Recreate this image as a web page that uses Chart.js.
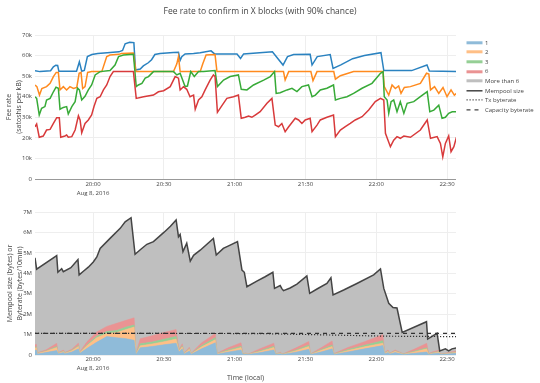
<!DOCTYPE html>
<html><head><meta charset="utf-8">
<script src="https://cdn.jsdelivr.net/npm/chart.js@4.4.1/dist/chart.umd.min.js"></script>
<style>
html,body{margin:0;padding:0;background:#fff;}
body{width:540px;height:383px;position:relative;overflow:hidden;font-family:"Open Sans",sans-serif;}
#c1{position:absolute;left:0;top:0;}
#c2{position:absolute;left:0;top:200px;}
#legend{position:absolute;left:466px;top:37.9px;font-size:6px;color:#444;font-family:"Open Sans",sans-serif;}
.row{height:9.6px;display:flex;align-items:center;white-space:nowrap;}
.row svg{width:17px;height:9.6px;margin-right:2px;flex:none;}
</style></head><body>
<canvas id="c1" width="540" height="200"></canvas>
<canvas id="c2" width="540" height="183"></canvas>
<div id="legend"></div>
<script>
// ---- time axis (minutes after 19:00) ----
const tickMinutes = [60, 90, 120, 150, 180, 210];
const tickLabels = ['20:00', '20:30', '21:00', '21:30', '22:00', '22:30'];
const dateLabel = 'Aug 8, 2016';
const legendNames = ['1', '2', '3', '6', 'More than 6', 'Mempool size', 'Tx byterate', 'Capacity byterate'];

// ---- top chart: fee rate (thousand satoshis per kB), [minute, value] ----
const fee1 = [[35.4,52.6],[37.5,52.2],[42,52.6],[43.2,54.5],[44.2,55.3],[45,55.2],[45.5,52.4],[53,52.4],[54.2,57],[55.2,52.4],[56.3,52.8],[57.6,59.5],[59.5,60.5],[62,61],[66,61.4],[71,61.8],[72.5,62.5],[73.6,65.7],[75.5,66.5],[77.3,66.3],[78,53],[80,53.5],[81.3,55],[83.4,56.5],[84.8,58],[86.2,60.5],[88.4,61],[94,61.5],[96.2,61.6],[96.9,57.7],[97.6,59.5],[99,60.8],[102.6,61],[105.4,61.4],[110,62.3],[111.5,60.8],[121,60.8],[122.5,58.6],[123.8,60.8],[136,61.8],[140.5,55.4],[142.4,59.5],[145,60.5],[152,60.6],[152.8,55.4],[155,59.5],[160.5,60.5],[161.7,53.8],[165,55.5],[170,58.5],[175,60],[182,61.4],[183.2,52.7],[195,52.7],[201.5,55.4],[202.5,52.5],[214,52.2]];
const fee2 = [[35.4,45.7],[36.2,44.9],[37.3,40.8],[38.3,44],[40.3,44.9],[41.8,46.5],[43.2,49.8],[44.4,51.8],[45.3,51.8],[46,43.3],[47.4,44.9],[48.8,43.3],[50.2,44.9],[51.7,44],[53.1,44.5],[54.1,51.4],[54.9,51.8],[55.6,44],[56.6,44.9],[57.7,51.8],[59.4,52.2],[63.7,52.2],[65.8,59.5],[67.2,60.3],[71,60.6],[72,61],[77.1,61.2],[78.2,52.2],[94.1,52.2],[95.5,56],[96.2,59.5],[96.9,52.2],[105.4,52.2],[106.5,56],[107.9,60.3],[111.7,60.5],[112.5,52.2],[140.7,52.2],[141.4,48.1],[142.9,52.2],[152.3,52.2],[153.2,47.8],[154.9,52.2],[162,52.2],[162.7,48.5],[164.8,50.2],[170.4,52.2],[182.9,52.2],[183.4,44.9],[185.3,40.8],[186.7,45.7],[188.1,44],[189.5,45.2],[190.5,41.6],[191.9,44.5],[194.5,44.9],[198.7,46.5],[201.3,51.4],[202.3,51],[203,43.3],[204.7,44.9],[206.5,41.6],[208.3,44.5],[210,40],[211.7,43.3],[213.1,40.8],[214,41.6]];
const fee3 = [[35.4,40],[36.1,39.2],[37.2,31.1],[38.2,34.4],[39.6,35.2],[40.3,38.4],[41.8,39.2],[43.2,42.4],[44.3,44.6],[45.3,44.1],[46,33.9],[47.4,34.8],[48.8,35.2],[49.5,31.6],[51,35.2],[52.4,37.6],[53.4,44.2],[54.2,43.3],[55.2,38.4],[56.6,40.2],[58,43.3],[59.4,45.7],[60.9,50.6],[63,52.2],[67.2,52.7],[69.3,55.4],[70.8,59.5],[72.9,60.3],[77.1,60.6],[78.3,44.9],[79.2,45.7],[80.7,46.5],[82.1,49],[83.5,49.8],[85.6,52.2],[94.1,52.2],[95.5,50.6],[96.9,51.4],[99,44.9],[100,45.2],[101.4,52.2],[102.9,49.8],[104.7,52.2],[106.8,52.2],[111.7,52.7],[112.7,44.9],[115.3,48.1],[118.1,49.8],[121.6,50.6],[122.8,43.6],[125.2,43.3],[128,45.7],[132.3,48.1],[135.1,49.8],[136.9,52.2],[137.6,41.6],[139.3,41.9],[142.2,43.3],[144.3,44.1],[146.4,42.5],[148.5,44.9],[151.3,45.7],[152.8,40],[154.2,40.8],[156.3,43.3],[159.1,44.1],[161.9,45.7],[162.7,38.4],[164.8,39.2],[167.6,40],[170.4,41.6],[174,44.1],[178.2,46.5],[181.8,51.4],[182.9,52.2],[183.4,40],[184.6,38.4],[185.3,31.9],[186.3,37.6],[187.4,38.4],[188.8,32.7],[190.2,37.6],[191.7,31.9],[193.1,36.8],[195.9,37.6],[198.7,40],[201.6,42.5],[202.7,32.7],[204.4,33.5],[206.5,35.9],[207.9,29.5],[209.3,30],[210.7,31.9],[212.2,32.7],[214,32.7]];
const fee6 = [[35.4,25.4],[36.1,26.7],[37.2,20.3],[38.9,20.9],[40.3,23.8],[41.8,24.1],[43.2,27],[44.6,29.8],[45.7,29.8],[46.3,20.3],[48.1,20.9],[48.8,21.4],[49.5,20.3],[51,20.6],[52.4,23.8],[53.8,30.7],[54.5,28.7],[55.2,22.5],[56.6,27],[58,28.7],[59.4,31.1],[60.4,35.2],[61.6,39.2],[63,40],[64.4,43.3],[65.8,45.7],[67.2,49.8],[68.6,52.2],[77.1,52.2],[78.3,39.2],[81.4,40],[85.6,40.8],[87.7,42.4],[89.9,42.9],[92.7,44.9],[94.8,49.8],[96.2,49],[96.9,43.3],[98.3,44.9],[99.7,43.6],[101.1,40],[102.6,40.8],[103.3,33.9],[104.7,38.4],[106.1,40],[107.5,43.3],[109.6,48.1],[111,50.6],[111.7,49.8],[112.7,32.4],[114.6,35.7],[116.7,39.2],[119.5,40],[121.6,40.8],[122.8,29.5],[124.5,30],[125.9,30.6],[127.3,30],[128.7,31.1],[130.8,32.7],[133.7,36.8],[135.8,39.2],[137.2,26.2],[138.6,25.4],[140,27],[141.4,23],[142.9,25.4],[145.7,29.5],[147.1,28.7],[148.5,27],[149.9,28.7],[152,29.5],[152.8,23],[154.9,26.2],[156.3,28.7],[159.1,30],[161.9,31.1],[162.7,20.6],[164.8,23.8],[166.9,25.4],[169,27],[171.1,28.7],[174,30.3],[176.8,33.5],[179.6,37.6],[181.8,39.2],[183.2,38.4],[183.9,22.2],[186,15.7],[187.4,18.9],[188.8,20.6],[190.2,19.8],[191.7,20.9],[194.5,20.3],[198.7,23.8],[201.6,28.7],[203,19.8],[205.8,20.6],[207.2,17.3],[208.2,10.8],[209.3,17.3],[210.7,20.9],[211.7,13.3],[212.9,15.7],[214,20.3]];

// ---- bottom chart: mempool (million bytes), [minute, value] ----
const mempoolSize = [[35.4,4.76],[36.1,4.2],[44.6,4.86],[45.1,4.05],[46.7,4.22],[47.4,4.08],[50.6,4.27],[53.6,4.67],[54.1,3.92],[55.9,4.1],[58,4.3],[60.1,4.55],[61.6,4.8],[63,5.22],[67.2,5.71],[71.5,6.2],[73.6,6.52],[76.1,6.72],[77.8,4.93],[80,5.15],[82.8,5.42],[85.6,5.55],[90,6.0],[92.8,6.3],[95.2,6.61],[96.2,5.79],[96.9,5.9],[98.1,5.06],[99.7,5.47],[101.2,4.6],[102.6,4.88],[105.4,5.13],[111,5.71],[112.2,4.89],[115.2,5.22],[118.1,5.38],[121.2,5.55],[123.1,4.16],[124.1,4.05],[125.2,3.34],[129.4,3.62],[132.9,3.83],[136.2,4.05],[136.9,3.26],[139.3,3.4],[140,3.25],[140.7,3.15],[143.5,3.28],[146.4,3.47],[150.6,3.87],[151.8,3.02],[154.9,3.23],[159.1,3.5],[160.8,3.78],[161.7,2.94],[166.2,3.18],[171.8,3.5],[178.9,3.92],[181.8,4.21],[183.2,3.26],[185.3,2.53],[187.1,2.32],[188.8,2.3],[191,1.11],[201.3,1.63],[201.8,0.78],[205.8,1.06],[206.9,0.2],[209.3,0.3],[210.7,0.2],[212.1,0.3],[214,0.35]];
// stacked fee buckets (million bytes) on a shared time grid
const stackTimes = [35.4,36.0,36.4,40,44.6,45.2,47.5,48,51,53.8,54.4,57.5,61.5,65.8,70,74,77.4,78.2,80,85,90,95.2,96.4,97.8,98.6,100.8,101.6,106,111.8,112.6,117,122.7,123.5,124.8,125.6,131,136.6,137.4,139.5,140.2,146,151.4,152.2,157,161.3,162.1,168,175,182.8,183.6,185,185.8,188,190.8,191.6,196,201.4,202.2,204,206.5,207.3,210,213.8];
const bucket1 = [.22,.24,.05,.12,.22,.06,.12,.06,.15,.3,.08,.33,.62,.9,.85,.8,.72,.03,.35,.42,.5,.58,.15,.3,.05,.2,.04,.3,.6,.04,.14,.25,.03,.05,.02,.12,.25,.03,.06,.02,.14,.28,.03,.16,.3,.03,.15,.3,.46,.06,.12,.05,.12,.05,.03,.08,.15,.03,.06,.1,.02,.05,.08];
const bucket2 = [.12,.12,.03,.06,.15,.03,.05,.03,.06,.12,.04,.14,.22,.15,.25,.45,.65,.02,.1,.12,.15,.2,.05,.1,.02,.08,.02,.1,.15,.02,.06,.12,.01,.02,.01,.06,.12,.01,.03,.01,.07,.14,.01,.08,.12,.01,.07,.1,.12,.03,.05,.02,.06,.02,.01,.07,.15,.01,.03,.05,.01,.02,.04];
const bucket3 = [.04,.04,.01,.02,.05,.01,.02,.01,.02,.04,.01,.04,.08,.1,.1,.12,.1,.01,.1,.1,.12,.13,.02,.05,.01,.03,.01,.06,.1,.01,.04,.06,.01,.01,0,.04,.06,.01,.01,.01,.04,.07,.01,.04,.07,.01,.05,.08,.12,.01,.02,.01,.02,.01,.01,.03,.05,.01,.02,.02,0,.01,.02];
const bucket6 = [.12,.12,.02,.05,.15,.02,.05,.02,.05,.12,.03,.15,.2,.25,.35,.33,.35,.02,.25,.3,.33,.34,.05,.1,.02,.07,.02,.14,.2,.02,.1,.17,.01,.02,.01,.1,.15,.01,.03,.01,.1,.17,.01,.1,.2,.02,.1,.17,.3,.03,.06,.02,.05,.02,.01,.1,.22,.02,.05,.06,.01,.03,.06];
const txTimes = [35.4, 130, 160, 185, 213.8];
const txByterate = [1.06, 1.05, 0.98, 0.92, 0.9];
const capTimes = [35.4, 213.8];
const capByterate = [1.06, 1.06];

// ---- styling ----
Chart.defaults.font.family = '"Open Sans", "DejaVu Sans", sans-serif';
Chart.defaults.color = '#444';
const lineColors = ['#2a82c0', '#ff8a1e', '#37aa37', '#d83a3b'];
const fillColors = ['#8fbbd9', '#ffbf86', '#95cf95', '#ea9393'];
const greyFill = '#bfbfbf';
const pts = arr => arr.map(([x, y]) => ({x, y}));
const zip = (xs, ys) => xs.map((x, i) => ({x, y: ys[i]}));

function xScale(withTitle) {
  return {
    type: 'linear', min: 35.4, max: 213.8,
    afterBuildTicks: s => { s.ticks = tickMinutes.map(v => ({value: v})); },
    afterFit: s => { s.height = withTitle ? 28 : 21; },
    ticks: {
      font: {size: 6, lineHeight: 1.5}, color: '#444', padding: withTitle ? 0 : 0.5, maxRotation: 0, autoSkip: false,
      callback: v => { const i = tickMinutes.indexOf(v); if (i < 0) return ''; return i === 0 ? [tickLabels[i], dateLabel] : tickLabels[i]; }
    },
    grid: {color: '#eee', drawTicks: false},
    border: {display: false},
    title: withTitle ? {display: true, text: 'Time (local)', font: {size: 7}, color: '#444', padding: {top: 0, bottom: 1}} : {display: false}
  };
}

new Chart(document.getElementById('c1'), {
  type: 'line',
  data: {
    datasets: [fee1, fee2, fee3, fee6].map((s, i) => ({
      label: legendNames[i], data: pts(s), borderColor: lineColors[i], borderWidth: 1.5,
      pointRadius: 0, fill: false, tension: 0, order: -i
    }))
  },
  options: {
    responsive: false, animation: false,
    layout: {padding: {left: 0, right: 20, top: 0, bottom: 0}},
    plugins: {
      legend: {display: false}, tooltip: {enabled: false},
      title: {display: true, text: 'Fee rate to confirm in X blocks (with 90% chance)', font: {size: 8.5, weight: 'normal'}, color: '#444', padding: {top: 6, bottom: 18.8}}
    },
    scales: {
      x: xScale(false),
      y: {
        min: 0, max: 70,
        afterFit: s => { s.width = 35; },
        ticks: {stepSize: 10, font: {size: 6}, color: '#444', padding: 3, callback: v => v === 0 ? '0' : v + 'k'},
        grid: {color: c => c.tick && c.tick.value === 0 ? '#999' : '#eee', drawTicks: false},
        border: {display: false},
        title: {display: true, text: ['Fee rate', '(satoshis per kB)'], font: {size: 7, lineHeight: 1.35}, color: '#444', padding: {top: 4.5}}
      },
      yPad: {
        position: 'right', display: true,
        afterFit: s => { s.width = 64; },
        ticks: {display: false}, grid: {display: false}, border: {display: false}
      }
    }
  }
});

new Chart(document.getElementById('c2'), {
  type: 'line',
  data: {
    datasets: [
      {label: legendNames[4], data: pts(mempoolSize), fill: 'origin', backgroundColor: greyFill, borderWidth: 0, pointRadius: 0, order: 3, stack: 'rest', tension: 0},
      ...[bucket1, bucket2, bucket3, bucket6].map((b, i) => ({
        label: legendNames[i], data: zip(stackTimes, b), fill: i === 0 ? 'origin' : '-1',
        backgroundColor: fillColors[i], borderColor: fillColors[i], borderWidth: 0.5, pointRadius: 0, order: 2, stack: 'fees', tension: 0
      })),
      {label: legendNames[5], data: pts(mempoolSize), fill: false, borderColor: '#444', borderWidth: 1.5, pointRadius: 0, order: 1, stack: 'mem', tension: 0},
      {label: legendNames[6], data: zip(txTimes, txByterate), fill: false, borderColor: '#333', borderWidth: 1.2, borderDash: [1.2, 1.8], pointRadius: 0, order: 0, stack: 'tx', tension: 0},
      {label: legendNames[7], data: zip(capTimes, capByterate), fill: false, borderColor: '#333', borderWidth: 1.2, borderDash: [4, 4], pointRadius: 0, order: 0, stack: 'cap', tension: 0}
    ]
  },
  options: {
    responsive: false, animation: false,
    layout: {padding: {left: 0, right: 84, top: 12, bottom: 0}},
    plugins: {legend: {display: false}, tooltip: {enabled: false}},
    scales: {
      x: xScale(true),
      y: {
        min: 0, max: 7, stacked: true,
        afterFit: s => { s.width = 35; },
        ticks: {stepSize: 1, font: {size: 6}, color: '#444', padding: 3, callback: v => v === 0 ? '0' : v + 'M'},
        grid: {color: '#eee', drawTicks: false},
        border: {display: false},
        title: {display: true, text: ['Mempool size (bytes) or', 'Byterate (bytes/10min)'], font: {size: 7, lineHeight: 1.4}, color: '#444', padding: {top: 5}}
      }
    }
  }
});

// ---- legend ----
const legendSwatches = [
  {w: 3, c: '#8fbbd9'}, {w: 3, c: '#ffbf86'}, {w: 3, c: '#95cf95'}, {w: 3, c: '#ea9393'},
  {w: 3, c: '#bfbfbf'}, {w: 1.5, c: '#444'}, {w: 1.2, c: '#444', d: '1.2,1.8'}, {w: 1.2, c: '#444', d: '4,4'}
];
const leg = document.getElementById('legend');
legendNames.forEach((n, i) => {
  const s = legendSwatches[i];
  const row = document.createElement('div');
  row.className = 'row';
  row.innerHTML = '<svg viewBox="0 0 17 9.6"><line x1="0.5" y1="4.8" x2="16.5" y2="4.8" stroke="' + s.c + '" stroke-width="' + s.w + '"' + (s.d ? ' stroke-dasharray="' + s.d + '"' : '') + '/></svg><span>' + n + '</span>';
  leg.appendChild(row);
});
</script>
</body></html>
